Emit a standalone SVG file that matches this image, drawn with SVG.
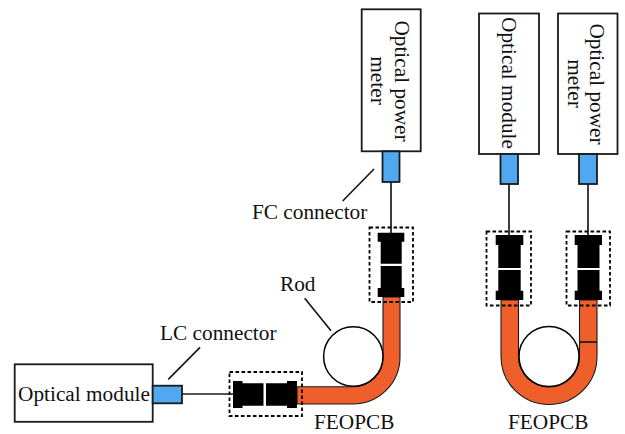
<svg xmlns="http://www.w3.org/2000/svg" width="625" height="434" viewBox="0 0 625 434">
<style>
.box{fill:#fff;stroke:#1a1a1a;stroke-width:1.8}
.blue{fill:#4fa8f0;stroke:#1a1a1a;stroke-width:1.8}
.ln{fill:none;stroke:#1a1a1a;stroke-width:1.7}
.dash{fill:none;stroke:#000;stroke-width:1.8;stroke-dasharray:3.6 2.4}
.fib{fill:#ee5f2c;stroke:#1a1a1a;stroke-width:1.1}
.rod{fill:#fff;stroke:#000;stroke-width:1.5}
.k{fill:#000}
text{font-family:"Liberation Serif","Times New Roman",serif;font-size:21.300px;fill:#111}
.m{text-anchor:middle}
</style>
<g id="connectors">
<path class="ln" d="M182 394H233"/>
<path class="ln" d="M391 182V233"/>
<path class="ln" d="M509 184V235"/>
<path class="ln" d="M588 184V235"/>
<path class="ln" d="M168.300 379.300L200 347.300"/>
<path class="ln" d="M374 169L342.700 201"/>
<path class="ln" d="M304.700 298.300L331 330.700"/>
</g>
<g id="fiber-left">
<path class="fib" d="M383 297H400V357A47 47 0 0 1 353 404H297V386.800H353A29.500 29.500 0 0 0 383 357Z"/>
<circle id="rod-left" class="rod" cx="353.300" cy="356.500" r="29.700"/>
</g>
<g id="fiber-right">
<path class="fib" d="M501 300H518.500V356.500A30.500 30.500 0 0 0 579.500 356.500V300H597V356.500A48 48 0 0 1 501 356.500Z"/>
<path class="ln" d="M579.500 342H597"/>
<circle id="rod-right" class="rod" cx="549" cy="356.500" r="30"/>
</g>
<g id="optical-module-left">
<rect class="box" x="14.700" y="364.300" width="138" height="57.500"/>
<text x="84" y="400.500" class="m">Optical module</text>
<rect class="blue" x="152.700" y="385.700" width="29.300" height="17.600"/>
</g>
<g id="meter-1">
<rect class="box" x="361.700" y="9.300" width="59" height="142"/>
<text class="m" transform="translate(395,81) rotate(90)">Optical power</text>
<text class="m" transform="translate(371,80.500) rotate(90)">meter</text>
<rect class="blue" x="382.500" y="151.300" width="17" height="30.700"/>
</g>
<g id="optical-module-right">
<rect class="box" x="479" y="13.500" width="60" height="140.500"/>
<text class="m" transform="translate(502,83) rotate(90)">Optical module</text>
<rect class="blue" x="500.500" y="154" width="17.500" height="30"/>
</g>
<g id="meter-2">
<rect class="box" x="558" y="13.500" width="59.500" height="140.500"/>
<text class="m" transform="translate(590,84) rotate(90)">Optical power</text>
<text class="m" transform="translate(567.500,83.500) rotate(90)">meter</text>
<rect class="blue" x="579" y="154" width="18" height="30"/>
</g>
<g id="fc-pair-1">
<path class="k" d="M377.700 232.700H404.300V241.700H401.700V263.700H380.700V241.700H377.700ZM380.700 266H401.700V288H404.300V297H377.700V288H380.700Z"/>
<rect class="dash" x="369.500" y="227.500" width="43.500" height="74.500"/>
</g>
<g id="lc-pair">
<path class="k" d="M233 381H242.500V383.300H263.500V405.700H242.500V408H233ZM266 383.300H287V381H297V408H287V405.700H266Z"/>
<rect class="dash" x="229.500" y="372" width="72.500" height="44"/>
</g>
<g id="fc-pair-2">
<path class="k" d="M495.700 235H523.300V245H520.700V268H498.300V245H495.700ZM498.300 270H520.700V290.700H523.300V300H495.700V290.700H498.300Z"/>
<rect class="dash" x="486.500" y="231.500" width="44.500" height="74"/>
</g>
<g id="fc-pair-3">
<path class="k" d="M574.700 235H602V245H599.500V268H577.500V245H574.700ZM577.500 270H599.500V290.700H602V300H574.700V290.700H577.500Z"/>
<rect class="dash" x="566.500" y="231.500" width="43.500" height="74"/>
</g>
<g id="labels">
<text x="160" y="340">LC connector</text>
<text x="252" y="219">FC connector</text>
<text x="280" y="291">Rod</text>
<text x="314" y="429">FEOPCB</text>
<text x="508" y="429">FEOPCB</text>
</g>
</svg>
